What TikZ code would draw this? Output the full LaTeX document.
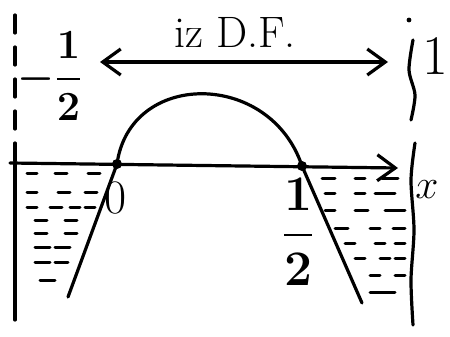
\documentclass[tikz,border=0pt]{standalone}
\usepackage{amsmath}
\usepackage{tikz}
\usetikzlibrary{arrows.meta,calc}

\begin{document}
\begin{tikzpicture}[
  x=0.5pt, y=-0.5pt,
  ink/.style={line width=1.6pt, line cap=round, line join=round},
  hatch/.style={line width=1.5pt, line cap=round},
  arrow/.style={ink, -{Straight Barb[length=9pt,width=13pt]}},
  darrow/.style={ink, {Straight Barb[length=9pt,width=13pt]}-{Straight Barb[length=9pt,width=13pt]}},
  lbl/.style={inner sep=0pt, font=\fontsize{22}{26}\selectfont},
  blob/.style={circle, fill, inner sep=0pt, minimum size=5pt},
]
\useasboundingbox (0,0) rectangle (450,337);

% walls at -1/2 and 1
\coordinate (lwtop) at (15,15);
\coordinate (lwmid) at (15,163);
\coordinate (lwbot) at (15,320);
\draw[ink, dash pattern=on 9pt off 7pt] (lwtop) -- (lwmid);
\draw[ink] (lwmid) -- (lwbot);
\fill (409,20) circle (1.2pt);
\draw[ink] plot[smooth] coordinates {(413,40) (409,70) (415,95) (411,120)};
\draw[ink] plot[smooth] coordinates {(415,143) (411,180) (414,230) (411,280) (413,325)};

% x axis and barrier
\coordinate (x0) at (10,163);
\coordinate (x1) at (398,168);
\draw[arrow] (x0) -- (x1);
\coordinate (bl) at (117,164);
\coordinate (br) at (302,166);
\draw[ink] (68,297) -- (bl) .. controls (130,70) and (270,70) .. (br) -- (362,303);
\node[blob] (pl) at (bl) {};
\node[blob] (pr) at (br) {};

% hatching
\foreach \y/\a/\b in {173/27/37, 173/55/67, 173/88/100,
                      192/27/37, 192/58/70, 192/85/97,
                      207/27/37, 207/50/62, 207/70/80, 207/85/95,
                      220/35/47, 220/65/77, 233/35/47, 233/65/77,
                      247/35/50, 247/55/70, 262/35/50, 262/55/68,
                      280/40/55}{ \draw[hatch] (\a,\y) -- (\b,\y); }
\foreach \y/\a/\b in {178/322/335, 178/355/365, 178/382/398,
                      193/325/335, 193/355/365, 193/375/395,
                      210/325/335, 210/355/368, 210/385/405,
                      228/335/348, 228/370/380, 228/393/405,
                      243/345/355, 243/375/385, 243/395/405,
                      258/355/365, 258/380/390, 258/395/405,
                      275/370/380, 275/395/405,
                      292/370/395}{ \draw[hatch] (\a,\y) -- (\b,\y); }

% labels
\coordinate (aL) at (100,62);
\coordinate (aR) at (388,62);
\draw[darrow] (aL) -- (aR);
\node[lbl] (df) at (235,32) {iz D.F.};
\node[lbl, font=\fontsize{28}{32}\selectfont] (one) at (435,56) {1};
\node[lbl, font=\fontsize{20}{24}\selectfont] (mhalf) at (50,76) {$\boldsymbol{-\dfrac{1}{2}}$};
\node[lbl, font=\fontsize{24}{28}\selectfont] (zero) at (116,198) {0};
\node[lbl, font=\fontsize{24}{28}\selectfont] (half) at (298,232) {$\boldsymbol{\dfrac{1}{2}}$};
\node[lbl] (xlbl) at (427,190) {$x$};

\end{tikzpicture}
\end{document}
